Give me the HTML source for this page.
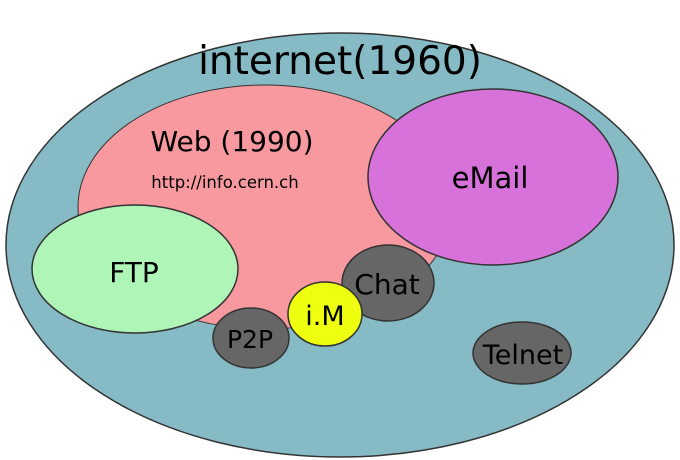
<!DOCTYPE html>
<html><head><meta charset="utf-8"><style>
html,body{margin:0;padding:0;background:#fff;width:680px;height:460px;overflow:hidden}
text{font-family:"DejaVu Sans","Liberation Sans",sans-serif;fill:#000}
</style></head><body>
<svg width="680" height="460" viewBox="0 0 680 460" xmlns="http://www.w3.org/2000/svg">
<ellipse cx="340" cy="245" rx="334" ry="212" fill="#86bbc6" stroke="#333" stroke-width="1.5"/>
<ellipse cx="265" cy="207" rx="187" ry="122" fill="#f7999f" stroke="#333" stroke-width="1"/>
<ellipse cx="493" cy="177" rx="125" ry="88" fill="#d672d9" stroke="#333" stroke-width="1.5"/>
<ellipse cx="135" cy="269" rx="103" ry="64" fill="#b0f5b8" stroke="#333" stroke-width="1.5"/>
<ellipse cx="388" cy="283" rx="46" ry="38" fill="#666" stroke="#333" stroke-width="1.5"/>
<ellipse cx="251" cy="338" rx="38" ry="30" fill="#666" stroke="#333" stroke-width="1.5"/>
<ellipse cx="325" cy="314" rx="37" ry="32" fill="#eeff10" stroke="#333" stroke-width="1.5"/>
<ellipse cx="522" cy="353" rx="49" ry="31" fill="#666" stroke="#333" stroke-width="1.5"/>
<text x="340" y="74" font-size="39" text-anchor="middle">internet(1960)</text>
<text x="232" y="151" font-size="28" text-anchor="middle">Web (1990)</text>
<text x="225" y="188" font-size="16.5" text-anchor="middle">http://info.cern.ch</text>
<text x="490" y="188" font-size="29" text-anchor="middle">eMail</text>
<text x="134" y="282" font-size="28" text-anchor="middle">FTP</text>
<text x="387" y="294" font-size="28" text-anchor="middle">Chat</text>
<text x="250" y="348" font-size="25" text-anchor="middle">P2P</text>
<text x="325" y="325" font-size="27" text-anchor="middle">i.M</text>
<text x="523" y="364" font-size="27" text-anchor="middle">Telnet</text>
</svg>
</body></html>
